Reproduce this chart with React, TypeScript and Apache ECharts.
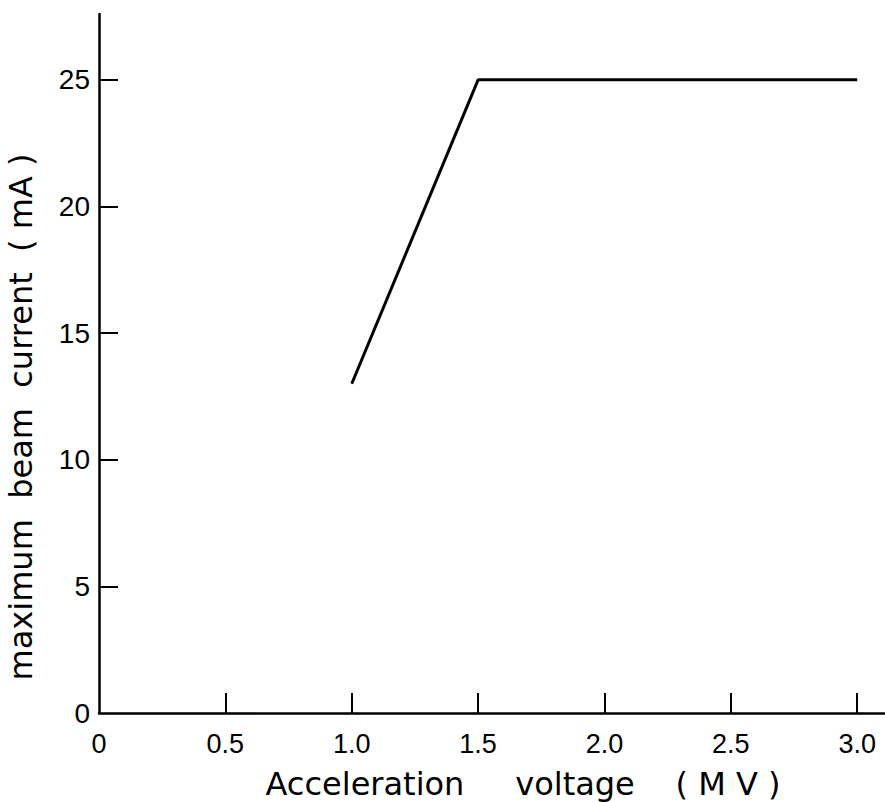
import React, { useEffect, useRef } from "react";
import * as echarts from "echarts";

const voltage = [1.0, 1.5, 3.0];
const current = [13, 25, 25];
const xTickValues = [0, 0.5, 1.0, 1.5, 2.0, 2.5, 3.0];
const yTickValues = [0, 5, 10, 15, 20, 25];
const xTitle = "Acceleration     voltage    ( M V )";
const yTitle = "maximum  beam  current  ( mA )";

export default function App() {
  const ref = useRef<HTMLDivElement>(null);
  useEffect(() => {
    if (!ref.current) return;
    const chart = echarts.init(ref.current, null, { renderer: "svg" });
    const labelFont = "'Liberation Sans', Arial, sans-serif";
    const titleFont = "DejaVu Sans, sans-serif";
    chart.setOption({
      animation: false,
      backgroundColor: "#ffffff",
      grid: { left: 99, right: 0, top: 14, bottom: 89, containLabel: false },
      xAxis: {
        type: "value",
        min: 0,
        max: 3.11,
        axisLine: { show: true, lineStyle: { color: "#000", width: 2.5 } },
        axisTick: {
          show: true,
          inside: true,
          length: 20,
          customValues: xTickValues.filter((v) => v > 0),
          lineStyle: { color: "#000", width: 2 },
        },
        axisLabel: {
          show: true,
          customValues: xTickValues,
          margin: 17,
          color: "#000",
          fontSize: 27,
          fontFamily: labelFont,
          formatter: (v: number) => (v === 0 ? "0" : v.toFixed(1)),
        },
        splitLine: { show: false },
      },
      yAxis: {
        type: "value",
        min: 0,
        max: 27.6,
        axisLine: { show: true, lineStyle: { color: "#000", width: 2.5 } },
        axisTick: {
          show: true,
          inside: true,
          length: 19,
          customValues: yTickValues.filter((v) => v > 0),
          lineStyle: { color: "#000", width: 2 },
        },
        axisLabel: {
          show: true,
          customValues: yTickValues,
          margin: 9,
          color: "#000",
          fontSize: 28,
          fontFamily: labelFont,
          formatter: (v: number) => String(v),
        },
        splitLine: { show: false },
      },
      graphic: [
        {
          type: "text",
          x: 523,
          y: 784,
          style: {
            text: xTitle,
            font: `32px ${titleFont}`,
            fill: "#000",
            textAlign: "center",
            textVerticalAlign: "middle",
          },
        },
        {
          type: "text",
          x: 21,
          y: 417,
          rotation: Math.PI / 2,
          style: {
            text: yTitle,
            font: `32px ${titleFont}`,
            fill: "#000",
            textAlign: "center",
            textVerticalAlign: "middle",
          },
        },
      ],
      series: [
        {
          type: "line",
          data: voltage.map((v, i) => [v, current[i]]),
          symbol: "none",
          lineStyle: { color: "#000", width: 3 },
        },
      ],
    });
    return () => chart.dispose();
  }, []);
  return (
    <div
      ref={ref}
      style={{ position: "fixed", left: 0, top: 0, width: 885, height: 802, background: "#fff" }}
    />
  );
}
